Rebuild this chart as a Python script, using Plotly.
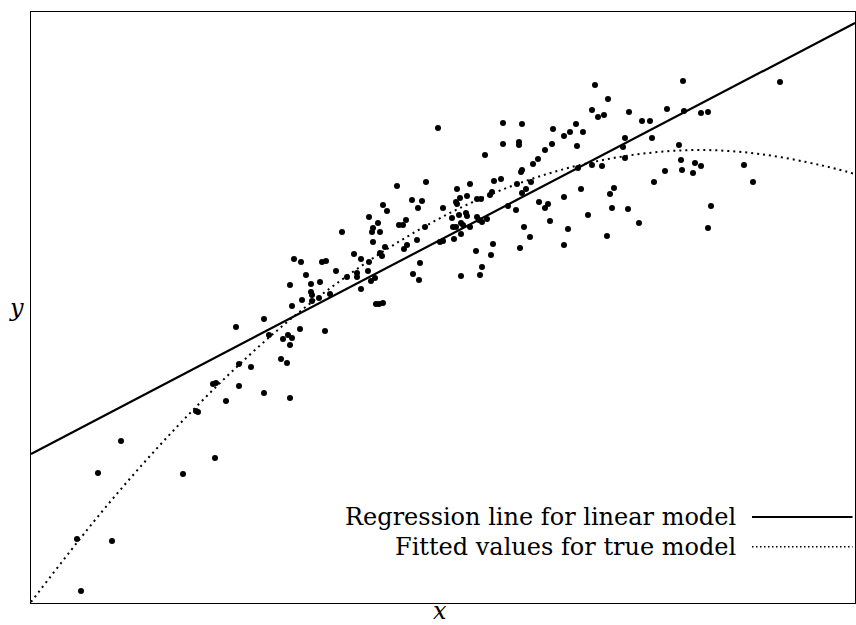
import plotly.graph_objects as go

# scatter points (arbitrary units)
x_obs = [46, 50, 67, 81, 90, 152, 165, 167, 184, 195, 182, 185, 208, 205, 208, 220, 233, 233,
         238, 252, 257, 261, 259, 250, 256, 259, 269, 294,
         342, 354, 349, 351, 263, 270, 291, 295, 323, 330, 338, 275, 305, 316, 326, 326, 337,
         340, 344, 330, 259, 280, 289, 280, 281, 288, 299, 271, 281, 261, 345, 348, 352,
         366, 311, 338, 347, 342, 341, 349, 368, 372, 375, 352, 356, 381, 387, 376, 373, 386,
         389, 382, 388,
         395, 407, 426, 439, 391, 429, 425, 426, 436, 446, 450, 412, 435, 436, 428, 421, 446,
         448, 451, 394, 422, 425, 430, 432, 439, 412, 409, 423, 430, 445, 430, 449,
         456, 454, 463, 470, 472, 472, 491, 488, 488, 491, 490, 486, 500, 495, 491, 461, 459,
         477, 485, 493, 499, 462, 489, 460, 451, 502, 507, 514, 522, 521, 508, 517, 514, 519,
         533, 539, 545, 552, 546, 547, 533, 537, 533, 550, 557, 561, 567, 573, 577, 561, 571,
         583, 579, 581, 576, 564,
         598, 636, 653, 670, 677, 611, 619, 594, 621, 592, 594, 648, 650, 651, 664, 670, 662,
         634, 713, 623, 722, 680, 597, 608, 677, 652, 749]
y_obs = [64, 12, 130, 62, 162, 129, 192, 191, 145, 202, 219, 220, 217, 276, 239, 236, 210, 284,
         268, 264, 268, 265, 258, 244, 240, 205, 274, 272,
         361, 356, 350, 347, 344, 341, 341, 342, 349, 344, 341, 328, 332, 326, 330, 326, 332,
         322, 325, 314, 318, 319, 321, 311, 308, 305, 309, 303, 302, 297, 299, 299, 300,
         417, 371, 386, 380, 375, 371, 371, 378, 378, 383, 398, 392, 403, 395, 358, 354, 363,
         340, 329, 323,
         421, 475, 414, 419, 402, 405, 401, 399, 407, 404, 404, 395, 390, 387, 388, 385, 386,
         383, 381, 376, 376, 376, 380, 378, 376, 362, 361, 364, 369, 352, 327, 328,
         384, 448, 422, 424, 480, 459, 479, 461, 458, 433, 431, 419, 421, 414, 410, 411, 408,
         397, 393, 376, 366, 359, 355, 348, 336, 439, 444, 453, 474, 459, 401, 399, 395, 382,
         467, 471, 479, 471, 457, 435, 406, 374, 358, 414, 388, 493, 486, 488, 504, 438, 437,
         415, 409, 395, 367, 518,
         491, 494, 492, 490, 491, 482, 482, 465, 465, 456, 445, 458, 443, 433, 440, 437, 430,
         432, 438, 421, 421, 397, 394, 380, 375, 522, 521]

# regression line for the linear model (end points)
x_lin = [0, 824]
y_lin = [149, 580]

# fitted values for the true (quadratic) model
x_fit = [0, 69, 129, 189, 249, 309, 369, 429, 489, 549, 609, 669, 729, 789, 824]
y_fit = [1, 89, 158, 220, 275, 322, 362, 395, 420, 438, 449, 453, 449, 438, 429]

legend_labels = ["Regression line for linear model", "Fitted values for true model"]

FONT = "DejaVu Serif"

fig = go.Figure()
fig.add_trace(go.Scatter(x=x_obs, y=y_obs, mode="markers",
                         marker=dict(color="black", size=6), showlegend=False))
fig.add_trace(go.Scatter(x=x_lin, y=y_lin, mode="lines",
                         line=dict(color="black", width=2.2), showlegend=False))
fig.add_trace(go.Scatter(x=x_fit, y=y_fit, mode="lines", line_shape="spline",
                         line=dict(color="black", width=2, dash="2px,4px"),
                         showlegend=False))

# legend drawn by hand: text on the left, line sample on the right
leg_y = [0.1455, 0.095]
leg_dash = ["solid", "1.5px,2.5px"]
leg_w = [2.2, 1.5]
for lab, ly, dash, w in zip(legend_labels, leg_y, leg_dash, leg_w):
    fig.add_annotation(x=0.858, y=ly, xref="paper", yref="paper", text=lab,
                       showarrow=False, xanchor="right", yanchor="middle",
                       font=dict(family=FONT, size=24, color="black"))
    fig.add_shape(type="line", xref="paper", yref="paper", x0=0.875, x1=0.997,
                  y0=ly, y1=ly, line=dict(color="black", width=w, dash=dash))

fig.add_annotation(x=0.496, y=-0.0135, xref="paper", yref="paper", text="<i>x</i>",
                   showarrow=False, yanchor="middle",
                   font=dict(family=FONT, size=24, color="black"))
fig.add_annotation(x=-0.018, y=0.5, xref="paper", yref="paper", text="<i>y</i>",
                   showarrow=False, xanchor="center",
                   font=dict(family=FONT, size=24, color="black"))

axis_style = dict(showgrid=False, zeroline=False, showticklabels=False, ticks="",
                  showline=True, mirror=True, linecolor="black", linewidth=1)
fig.update_xaxes(range=[0, 824], **axis_style)
fig.update_yaxes(range=[0, 591], **axis_style)

fig.update_layout(width=856, height=625, margin=dict(l=31, r=1, t=12, b=22),
                  plot_bgcolor="white", paper_bgcolor="white")

# drop the page's default body margin so the figure sits at the window corner
fig.write_html("out.html", config={"displayModeBar": False},
               post_script="document.body.style.margin='0';")
